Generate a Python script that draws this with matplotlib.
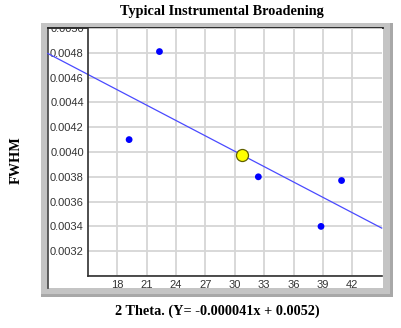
import numpy as np
import matplotlib
matplotlib.use("Agg")
import matplotlib.pyplot as plt
from matplotlib.patches import Rectangle
from matplotlib.lines import Line2D
from matplotlib.ticker import FuncFormatter

# Measured peaks: 2-theta position and FWHM
two_theta = [22.3, 19.2, 32.4, 38.8, 40.9]
fwhm = [0.00481, 0.00410, 0.00380, 0.00340, 0.00377]

x_ticks = [18, 21, 24, 27, 30, 33, 36, 39, 42]
y_ticks = [0.0030, 0.0032, 0.0034, 0.0036, 0.0038, 0.0040, 0.0042,
           0.0044, 0.0046, 0.0048, 0.0050]

title = "Typical Instrumental Broadening"
y_title = "FWHM"

# Linear fit of FWHM against 2-theta
slope, intercept = np.polyfit(two_theta, fwhm, 1)
mean_x = np.mean(two_theta)
mean_y = np.mean(fwhm)
x_title = f"2 Theta. (Y= {slope:.6f}x + {intercept:.4f})"

W, H = 401, 328
fig = plt.figure(figsize=(W / 100, H / 100), dpi=100)
fig.patch.set_facecolor("white")


def fx(px):
    return px / W


def fy(py):
    return 1 - py / H


# Sunken gray frame around the plotting panel
fig.patches.append(Rectangle((fx(41), fy(297)), fx(352), 274 / H,
                             transform=fig.transFigure, facecolor="#c4c4c4",
                             edgecolor="none", zorder=-3))
fig.patches.append(Rectangle((fx(390), fy(297)), fx(3), 274 / H,
                             transform=fig.transFigure, facecolor="#a8a8a8",
                             edgecolor="none", zorder=-3))
fig.patches.append(Rectangle((fx(41), fy(297)), fx(352), 3 / H,
                             transform=fig.transFigure, facecolor="#a8a8a8",
                             edgecolor="none", zorder=-3))
panel = Rectangle((fx(48), fy(288)), fx(335), 260 / H,
                  transform=fig.transFigure, facecolor="white",
                  edgecolor="none", zorder=-2)
fig.patches.append(panel)
fig.lines.append(Line2D([fx(47.5), fx(47.5)], [fy(288), fy(27.5)],
                        transform=fig.transFigure, color="#505050", lw=1.3,
                        zorder=-1))
fig.lines.append(Line2D([fx(47.5), fx(383)], [fy(27.5), fy(27.5)],
                        transform=fig.transFigure, color="#202020", lw=1.3,
                        zorder=-1))

ax = fig.add_axes([fx(88), fy(276), fx(381.7 - 88), (276 - 28) / H])
ax.set_zorder(1)
ax.set_facecolor("none")
ax.set_xlim(15, 45)
ax.set_ylim(0.0030, 0.0050)
ax.set_xticks(x_ticks)
ax.set_yticks(y_ticks)
ax.yaxis.set_major_formatter(FuncFormatter(
    lambda v, p: "" if abs(v - 0.0030) < 1e-9 else f"{v:.4f}"))
ax.grid(True, color="#d6d6d6", lw=1.3, zorder=0)
ax.set_axisbelow(True)
for s in ("top", "right"):
    ax.spines[s].set_visible(False)
ax.spines["left"].set_color("#303030")
ax.spines["bottom"].set_color("#303030")
ax.spines["left"].set_linewidth(1.2)
ax.spines["bottom"].set_linewidth(1.2)
ax.tick_params(length=0, pad=3, labelsize=8, labelcolor="#333333")
for lab in ax.get_xticklabels() + ax.get_yticklabels():
    lab.set_fontfamily("Liberation Sans")

# Fit line, extended across the panel
xl = np.array([10.9, 45.0])
ax.plot(xl, slope * xl + intercept, color="#4a4aff", lw=0.9,
        clip_on=False, zorder=2)
ax.scatter(two_theta, fwhm, s=24, color="#0000ff", edgecolors="none",
           zorder=3)
ax.scatter([mean_x], [mean_y], s=75, color="#ffff00",
           edgecolors="#606000", linewidths=0.9, zorder=4)

fig.canvas.draw()
for lab in ax.get_yticklabels():
    lab.set_clip_path(panel)

fig.text(fx(222), fy(12), title, ha="center", va="center",
         fontfamily="Liberation Serif", fontweight="bold", fontsize=10.3)
fig.text(fx(16), fy(160), y_title, ha="center", va="center", rotation=90,
         fontfamily="Liberation Serif", fontweight="bold", fontsize=10.3)
fig.text(fx(217), fy(311), x_title, ha="center", va="center",
         fontfamily="Liberation Serif", fontweight="bold", fontsize=10.3)

fig.savefig("out.png", dpi=100)
